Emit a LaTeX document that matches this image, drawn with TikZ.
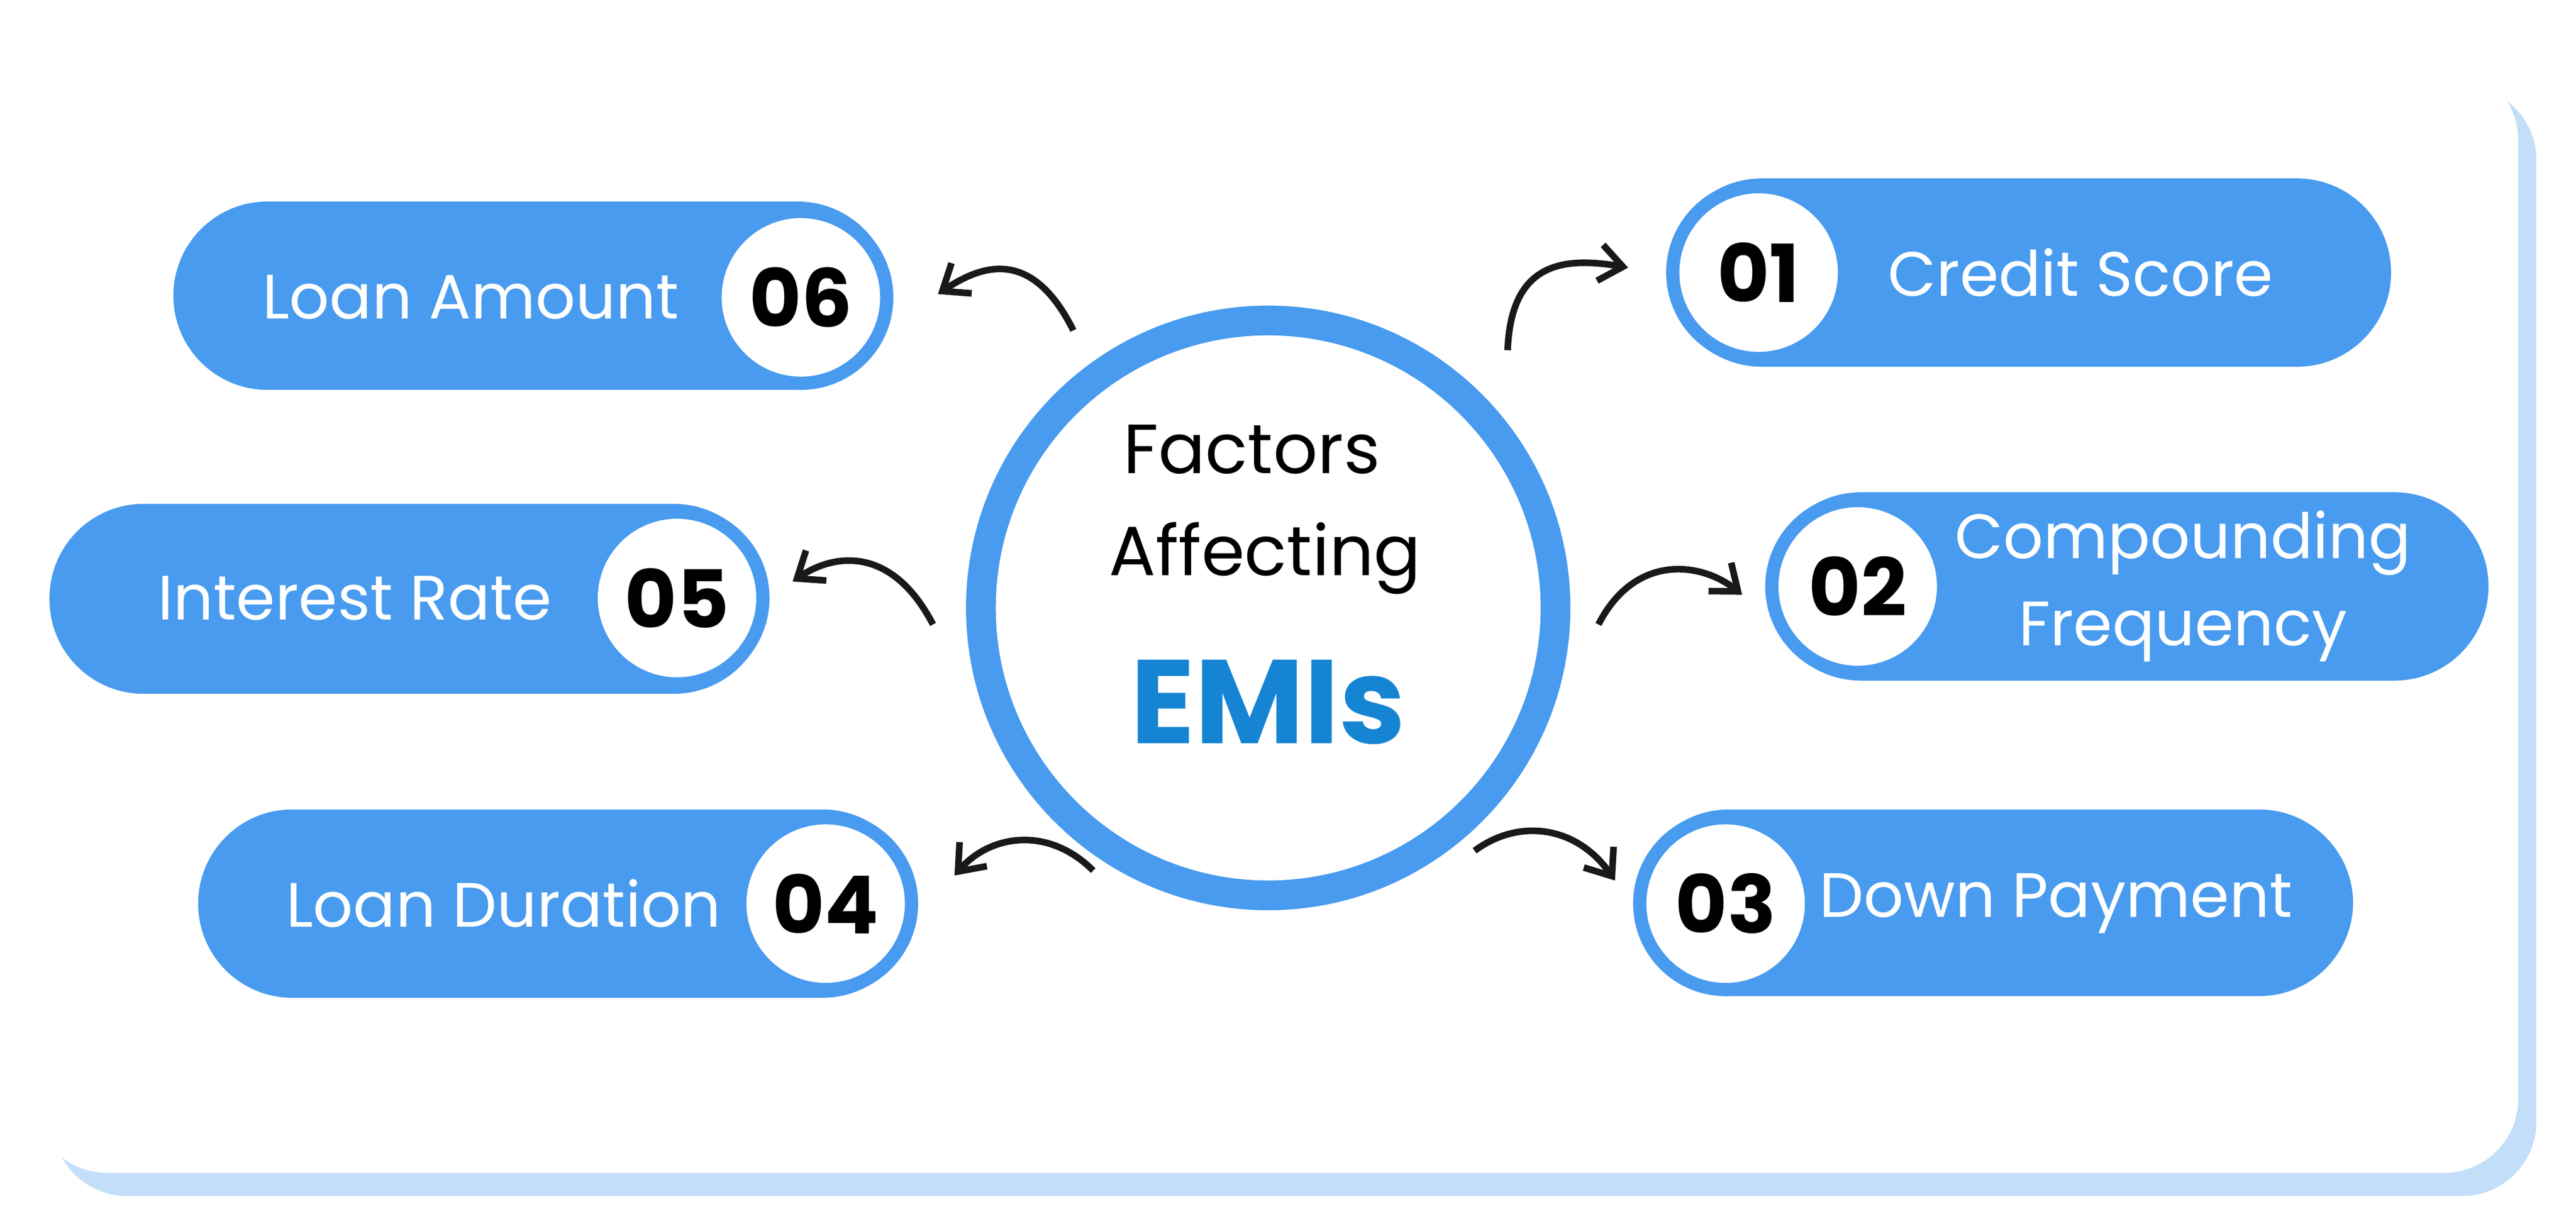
\documentclass[tikz,border=0pt]{standalone}
\usepackage{fontspec}
\setmainfont{Poppins}
\usetikzlibrary{arrows.meta}
\definecolor{pillblue}{HTML}{489BEE}
\definecolor{shadowblue}{HTML}{C2DEF8}
\definecolor{emiblue}{HTML}{1584D2}
\begin{document}
\begin{tikzpicture}[x=1mm,y=-1mm,
  pill/.style={fill=pillblue,rounded corners=57mm},
  numc/.style={circle,fill=white,draw=pillblue,line width=8mm,minimum size=104mm,inner sep=0,font=\fontsize{138}{150}\selectfont\bfseries,text=black},
  lbl/.style={text=white,font=\fontsize{108}{130}\selectfont,align=center},
  arr/.style={line width=4mm,draw=black!90,-{Straight Barb[length=14mm,width=22mm,line width=4mm]}}]
\useasboundingbox (0,0) rectangle (1560,739);
% card
\fill[shadowblue,rounded corners=45mm] (32,52) rectangle (1536,724);
\fill[white,rounded corners=45mm] (20,40) rectangle (1525,710);
% centre
\node[circle,fill=white,draw=pillblue,line width=18mm,minimum size=348mm] (c) at (768,368) {};
\node[font=\fontsize{120}{140}\selectfont] (f1) at (758,272) {Factors};
\node[font=\fontsize{120}{140}\selectfont] (f2) at (766,338) {Affecting};
\node[font=\fontsize{205}{220}\selectfont\bfseries,text=emiblue] (f3) at (768,425) {EMIs};
% pills
\fill[pill] (105,122) rectangle (540,236);
\node[lbl] (t6) at (285,180) {Loan Amount};
\node[numc] (n6) at (485,180) {06};
\fill[pill] (30,305) rectangle (465,420);
\node[lbl] (t5) at (215,362) {Interest Rate};
\node[numc] (n5) at (410,362) {05};
\fill[pill] (120,490) rectangle (555,604);
\node[lbl] (t4) at (305,547) {Loan Duration};
\node[numc] (n4) at (500,547) {04};
\fill[pill] (1010,108) rectangle (1448,222);
\node[lbl] (t1) at (1260,165) {Credit Score};
\node[numc] (n1) at (1065,165) {01};
\fill[pill] (1070,298) rectangle (1507,412);
\node[lbl,font=\fontsize{108}{150}\selectfont] (t2) at (1322,355) {Compounding\\Frequency};
\node[numc] (n2) at (1125,355) {02};
\fill[pill] (990,490) rectangle (1425,603);
\node[lbl] (t3) at (1245,547) {Down Payment};
\node[numc] (n3) at (1045,547) {03};
% arrows
\coordinate (a6s) at (650,200); \coordinate (a6e) at (568,178);
\coordinate (a5s) at (565,378); \coordinate (a5e) at (480,352);
\coordinate (a4s) at (662,527); \coordinate (a4e) at (578,530);
\coordinate (a1s) at (913,212); \coordinate (a1e) at (986,162);
\coordinate (a2s) at (968,378); \coordinate (a2e) at (1055,360);
\coordinate (a3s) at (893,515); \coordinate (a3e) at (978,533);
\draw[arr] (a6s) .. controls (625,150) and (595,160) .. (a6e);
\draw[arr] (a5s) .. controls (540,330) and (505,335) .. (a5e);
\draw[arr] (a4s) .. controls (635,500) and (600,505) .. (a4e);
\draw[arr] (a1s) .. controls (915,160) and (945,155) .. (a1e);
\draw[arr] (a2s) .. controls (990,335) and (1030,340) .. (a2e);
\draw[arr] (a3s) .. controls (920,495) and (955,500) .. (a3e);
\end{tikzpicture}
\end{document}
